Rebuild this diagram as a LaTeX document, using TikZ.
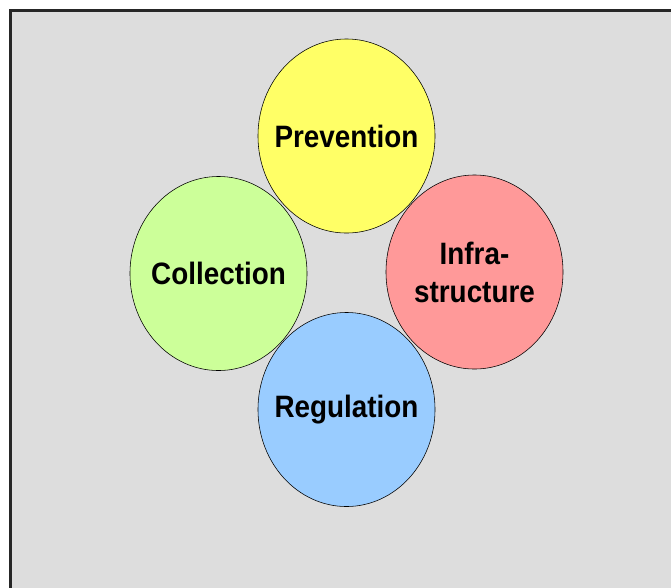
\documentclass[tikz,border=0pt]{standalone}
\usepackage{fontspec}
\setmainfont{Liberation Sans}[FakeStretch=0.9]
\usetikzlibrary{shapes.geometric}
\definecolor{panelgray}{HTML}{DDDDDD}
\definecolor{prevyellow}{HTML}{FFFF66}
\definecolor{infrared}{HTML}{FF9999}
\definecolor{collgreen}{HTML}{CCFF99}
\definecolor{regblue}{HTML}{99CCFF}
\tikzset{
  topic/.style={ellipse,draw,thin,minimum width=4.425cm,minimum height=4.85cm,
    inner sep=0pt},
  every label/.style={align=center,inner sep=0pt,
    font=\fontsize{22}{27}\selectfont\bfseries}
}

\begin{document}
\begin{tikzpicture}[x=0.025cm,y=-0.025cm]

  \clip (0,0) rectangle (671,587);
  \fill[white] (0,0) rectangle (671,587);
  \draw[line width=2.2pt,fill=panelgray,draw=black!85] (10.5,10.5) rectangle (700,620);

  \node[topic,fill=prevyellow,label=center:Prevention] (prev) at (346.5,136) {};
  \node[topic,fill=infrared,label={center:Infra-\\structure}] (infra) at (474.5,272) {};
  \node[topic,fill=collgreen,label=center:Collection] (coll) at (218.5,273.5) {};
  \node[topic,fill=regblue,label=center:Regulation] (reg) at (346.5,409.5) {};

\end{tikzpicture}
\end{document}
